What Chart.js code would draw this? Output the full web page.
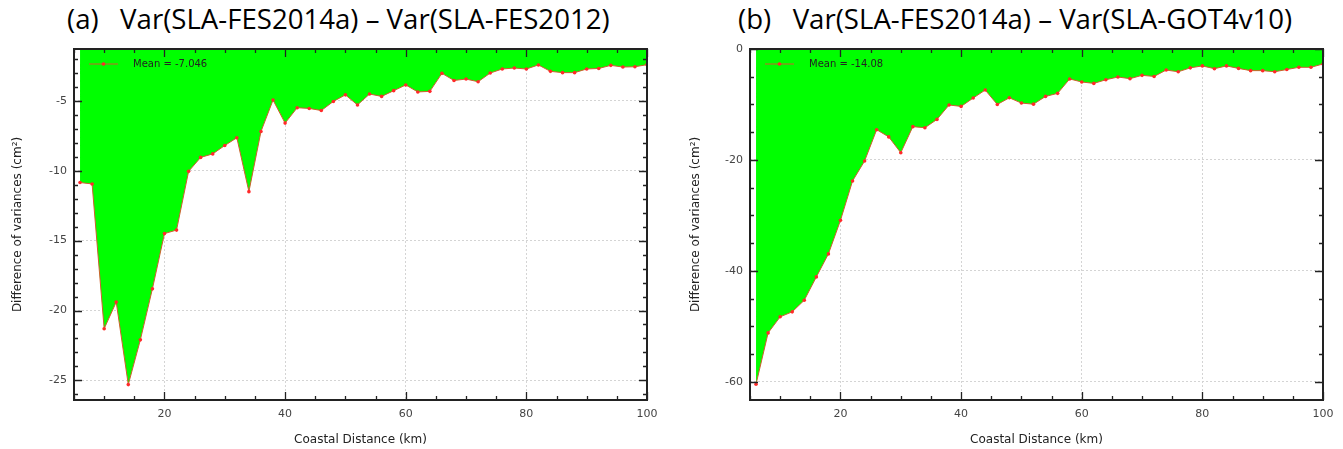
<!DOCTYPE html>
<html>
<head>
<meta charset="utf-8">
<script src="https://cdn.jsdelivr.net/npm/chart.js"></script>
<style>
  body { margin: 0; background: #fff; width: 1343px; height: 449px; overflow: hidden; position: relative; }
  .panel { position: absolute; top: 0; height: 449px; }
  .title { position: absolute; top: -1px; font: 27.6px "Open Sans", sans-serif; color: #000; white-space: pre; }
</style>
</head>
<body>
<div class="title" style="left:67px">(a)   Var(SLA-FES2014a) – Var(SLA-FES2012)</div>
<div class="title" style="left:738px">(b)   Var(SLA-FES2014a) – Var(SLA-GOT4v10)</div>
<div class="panel" style="left:0;width:671px"><canvas id="chartA" width="671" height="449"></canvas></div>
<div class="panel" style="left:671px;width:672px"><canvas id="chartB" width="672" height="449"></canvas></div>

<script>
  // distance from coast (km)
  const distanceKm = [6, 8, 10, 12, 14, 16, 18, 20, 22, 24, 26, 28, 30, 32, 34, 36,
    38, 40, 42, 44, 46, 48, 50, 52, 54, 56, 58, 60, 62, 64, 66, 68,
    70, 72, 74, 76, 78, 80, 82, 84, 86, 88, 90, 92, 94, 96, 98, 100];

  // Var(SLA-FES2014a) - Var(SLA-FES2012)
  const diffFes2012 = [-10.85, -10.95, -21.3, -19.4, -25.3, -22.1, -18.45, -14.5, -14.25, -10.05, -9.05, -8.8, -8.2, -7.65, -11.5, -7.2,
    -4.95, -6.6, -5.5, -5.55, -5.7, -5.05, -4.58, -5.3, -4.52, -4.69, -4.28, -3.87, -4.37, -4.33, -3.04, -3.55,
    -3.45, -3.64, -3.02, -2.73, -2.66, -2.73, -2.44, -2.9, -2.99, -2.99, -2.73, -2.69, -2.47, -2.59, -2.57, -2.42];

  // Var(SLA-FES2014a) - Var(SLA-GOT4v10)
  const diffGot4v10 = [-60.45, -51.2, -48.3, -47.4, -45.3, -41.1, -36.95, -30.9, -23.8, -20.2, -14.55, -15.85, -18.7, -14.0, -14.2, -12.7,
    -10.1, -10.35, -8.85, -7.4, -10.0, -8.8, -9.75, -9.95, -8.55, -8.0, -5.4, -5.95, -6.2, -5.55, -5.05, -5.35,
    -4.75, -4.95, -3.8, -4.1, -3.4, -3.05, -3.55, -3.05, -3.5, -3.9, -3.9, -4.1, -3.7, -3.3, -3.3, -2.7];

  const xMajorTicks = [20, 40, 60, 80, 100];
  const yMajorTicksA = [-25, -20, -15, -10, -5];
  const yMajorTicksB = [-60, -40, -20, 0];
  const meanLabelA = "Mean = -7.046";
  const meanLabelB = "Mean = -14.08";

  const lineColor = "rgb(205, 95, 45)";
  const markColor = "#ff2a2a";
  const tickFont = { family: "DejaVu Sans", size: 11 };
  const titleFont = { family: "DejaVu Sans", size: 12 };

  // frame with inward ticks on all four sides
  const frameTicks = {
    id: "frameTicks",
    afterDraw(chart, args, opts) {
      const { ctx, chartArea: a, scales: { x, y } } = chart;
      ctx.save();
      ctx.strokeStyle = "#222";
      ctx.lineWidth = 1.3;
      ctx.beginPath();
      for (let v = Math.ceil(x.min / 5) * 5; v <= x.max; v += 5) {
        const px = Math.round(x.getPixelForValue(v)) + 0.5;
        const len = xMajorTicks.includes(v) ? 8 : 4;
        ctx.moveTo(px, a.bottom); ctx.lineTo(px, a.bottom - len);
        ctx.moveTo(px, a.top); ctx.lineTo(px, a.top + len);
      }
      const step = opts.yMinor;
      for (let v = Math.ceil(y.min / step) * step; v <= y.max; v += step) {
        const py = Math.round(y.getPixelForValue(v)) + 0.5;
        const len = opts.yMajor.includes(v) ? 8 : 4;
        ctx.moveTo(a.left, py); ctx.lineTo(a.left + len, py);
        ctx.moveTo(a.right, py); ctx.lineTo(a.right - len, py);
      }
      ctx.stroke();
      ctx.lineWidth = 2;
      ctx.strokeRect(a.left, a.top, a.right - a.left, a.bottom - a.top);
      ctx.restore();
    }
  };

  // legend drawn inside the plot, top-left
  const innerLegend = {
    id: "innerLegend",
    afterDraw(chart, args, opts) {
      const { ctx, chartArea: a } = chart;
      const yy = a.top + 15;
      ctx.save();
      ctx.strokeStyle = lineColor;
      ctx.lineWidth = 1;
      ctx.beginPath();
      ctx.moveTo(a.left + 15, yy); ctx.lineTo(a.left + 44, yy);
      ctx.stroke();
      ctx.fillStyle = markColor;
      ctx.beginPath();
      ctx.arc(a.left + 29.5, yy, 1.8, 0, Math.PI * 2);
      ctx.fill();
      ctx.fillStyle = "#222";
      ctx.font = "10px 'DejaVu Sans'";
      ctx.textBaseline = "middle";
      ctx.fillText(opts.text, a.left + 59, yy);
      ctx.restore();
    }
  };

  function makeChart(id, values, yMin, yMax, yMajor, yMinor, legendText, padRight, yAxisWidth, yTitlePad) {
    return new Chart(document.getElementById(id), {
      type: "line",
      data: {
        labels: distanceKm,
        datasets: [{
          data: distanceKm.map((d, i) => ({ x: d, y: values[i] })),
          borderColor: lineColor,
          borderWidth: 1,
          backgroundColor: "#00ff00",
          fill: "end",
          tension: 0,
          pointRadius: 1.8,
          pointBackgroundColor: markColor,
          pointBorderWidth: 0,
        }],
      },
      options: {
        responsive: false,
        animation: false,
        devicePixelRatio: 1,
        layout: { padding: { top: 49, right: padRight, left: 0, bottom: 0 } },
        plugins: {
          legend: { display: false },
          tooltip: { enabled: false },
          innerLegend: { text: legendText },
          frameTicks: { yMajor: yMajor, yMinor: yMinor },
        },
        scales: {
          x: {
            type: "linear",
            min: 5,
            max: 100,
            afterBuildTicks: (s) => { s.ticks = xMajorTicks.map((v) => ({ value: v })); },
            afterFit: (s) => { s.height = 49; },
            grid: { color: "#d4d4d4", drawTicks: false },
            border: { display: false, dash: [2, 2] },
            ticks: { font: tickFont, color: "#444", padding: 8, maxRotation: 0 },
            title: { display: true, text: "Coastal Distance (km)", font: titleFont, color: "#222", padding: { top: 0, bottom: 2 } },
          },
          y: {
            min: yMin,
            max: yMax,
            afterBuildTicks: (s) => { s.ticks = yMajor.map((v) => ({ value: v })); },
            afterFit: (s) => { s.width = yAxisWidth; },
            grid: { color: "#d4d4d4", drawTicks: false },
            border: { display: false, dash: [2, 2] },
            ticks: { font: tickFont, color: "#444", padding: 7 },
            title: { display: true, text: "Difference of variances (cm²)", font: titleFont, color: "#222", padding: { top: yTitlePad, bottom: 0 } },
          },
        },
      },
      plugins: [frameTicks, innerLegend],
    });
  }

  makeChart("chartA", diffFes2012, -26.4, -1.3, yMajorTicksA, 1, meanLabelA, 24, 74, 11);
  makeChart("chartB", diffGot4v10, -63.3, 0, yMajorTicksB, 5, meanLabelB, 20, 79, 18);
</script>
</body>
</html>
